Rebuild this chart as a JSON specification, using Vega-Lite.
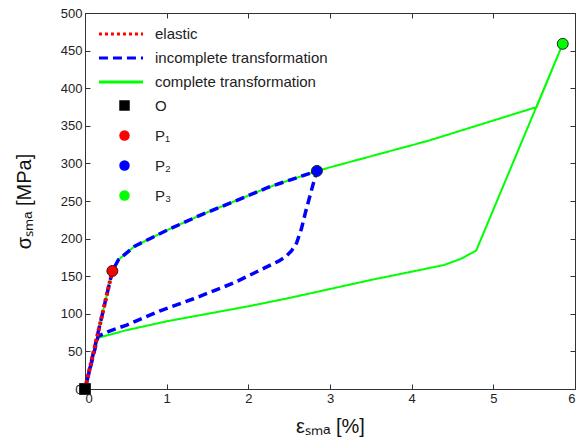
{
  "$schema": "https://vega.github.io/schema/vega-lite/v6.json",
  "width": 490,
  "height": 376,
  "autosize": {"type": "none"},
  "padding": {"left": 85, "top": 13, "right": 10, "bottom": 55},
  "background": "white",
  "config": {
    "font": "Liberation Sans",
    "view": {"stroke": "#333", "strokeWidth": 1},
    "axis": {
      "grid": false,
      "domainColor": "#333",
      "tickColor": "#333",
      "labelColor": "#222",
      "labelFontSize": 13,
      "labelFont": "Liberation Sans",
      "tickSize": -5,
      "titleFont": "Liberation Sans",
      "titleFontSize": 20,
      "titleFontWeight": "normal",
      "titleColor": "#111"
    },
    "legend": {"labelFont": "Liberation Sans", "labelColor": "#222", "labelFontSize": 15, "labelLimit": 400}
  },
  "datasets": {
    "lines": [
      {"series": "complete transformation", "i": 0, "x": 0, "y": 0},
      {"series": "complete transformation", "i": 1, "x": 0.335, "y": 157},
      {"series": "complete transformation", "i": 2, "x": 0.41, "y": 172},
      {"series": "complete transformation", "i": 3, "x": 0.61, "y": 190},
      {"series": "complete transformation", "i": 4, "x": 1.02, "y": 212},
      {"series": "complete transformation", "i": 5, "x": 1.43, "y": 232},
      {"series": "complete transformation", "i": 6, "x": 1.84, "y": 250},
      {"series": "complete transformation", "i": 7, "x": 2.24, "y": 268},
      {"series": "complete transformation", "i": 8, "x": 2.65, "y": 283},
      {"series": "complete transformation", "i": 9, "x": 2.84, "y": 290},
      {"series": "complete transformation", "i": 10, "x": 3.45, "y": 308},
      {"series": "complete transformation", "i": 11, "x": 4.2, "y": 330},
      {"series": "complete transformation", "i": 12, "x": 5.0, "y": 357},
      {"series": "complete transformation", "i": 13, "x": 5.53, "y": 375},
      {"series": "complete transformation", "i": 14, "x": 5.85, "y": 459},
      {"series": "complete transformation", "i": 15, "x": 4.79, "y": 184},
      {"series": "complete transformation", "i": 16, "x": 4.6, "y": 173},
      {"series": "complete transformation", "i": 17, "x": 4.4, "y": 165},
      {"series": "complete transformation", "i": 18, "x": 4.0, "y": 156},
      {"series": "complete transformation", "i": 19, "x": 3.5, "y": 145},
      {"series": "complete transformation", "i": 20, "x": 3.0, "y": 133},
      {"series": "complete transformation", "i": 21, "x": 2.5, "y": 121},
      {"series": "complete transformation", "i": 22, "x": 2.0, "y": 110},
      {"series": "complete transformation", "i": 23, "x": 1.5, "y": 100},
      {"series": "complete transformation", "i": 24, "x": 1.0, "y": 90},
      {"series": "complete transformation", "i": 25, "x": 0.5, "y": 78},
      {"series": "complete transformation", "i": 26, "x": 0.16, "y": 68},
      {"series": "complete transformation", "i": 27, "x": 0, "y": 0},
      {"series": "incomplete transformation", "i": 0, "x": 0, "y": 0},
      {"series": "incomplete transformation", "i": 1, "x": 0.335, "y": 157},
      {"series": "incomplete transformation", "i": 2, "x": 0.41, "y": 172},
      {"series": "incomplete transformation", "i": 3, "x": 0.61, "y": 190},
      {"series": "incomplete transformation", "i": 4, "x": 1.02, "y": 212},
      {"series": "incomplete transformation", "i": 5, "x": 1.43, "y": 232},
      {"series": "incomplete transformation", "i": 6, "x": 1.84, "y": 250},
      {"series": "incomplete transformation", "i": 7, "x": 2.24, "y": 268},
      {"series": "incomplete transformation", "i": 8, "x": 2.65, "y": 283},
      {"series": "incomplete transformation", "i": 9, "x": 2.84, "y": 290},
      {"series": "incomplete transformation", "i": 10, "x": 2.8, "y": 275},
      {"series": "incomplete transformation", "i": 11, "x": 2.75, "y": 255},
      {"series": "incomplete transformation", "i": 12, "x": 2.7, "y": 235},
      {"series": "incomplete transformation", "i": 13, "x": 2.65, "y": 213},
      {"series": "incomplete transformation", "i": 14, "x": 2.59, "y": 194},
      {"series": "incomplete transformation", "i": 15, "x": 2.53, "y": 184},
      {"series": "incomplete transformation", "i": 16, "x": 2.46, "y": 176},
      {"series": "incomplete transformation", "i": 17, "x": 2.37, "y": 170},
      {"series": "incomplete transformation", "i": 18, "x": 2.2, "y": 161},
      {"series": "incomplete transformation", "i": 19, "x": 1.82, "y": 141},
      {"series": "incomplete transformation", "i": 20, "x": 1.33, "y": 120},
      {"series": "incomplete transformation", "i": 21, "x": 0.92, "y": 104},
      {"series": "incomplete transformation", "i": 22, "x": 0.51, "y": 85},
      {"series": "incomplete transformation", "i": 23, "x": 0.3, "y": 77},
      {"series": "incomplete transformation", "i": 24, "x": 0.16, "y": 70},
      {"series": "incomplete transformation", "i": 25, "x": 0, "y": 0},
      {"series": "elastic", "i": 0, "x": 0, "y": 0},
      {"series": "elastic", "i": 1, "x": 0.335, "y": 157}
    ],
    "pts": [
      {"name": "O", "x": 0, "y": 0},
      {"name": "P₁", "x": 0.335, "y": 157},
      {"name": "P₂", "x": 2.84, "y": 290},
      {"name": "P₃", "x": 5.85, "y": 459}
    ]
  },
  "layer": [
    {
      "data": {"name": "lines"},
      "transform": [{"filter": "datum.series === 'complete transformation'"}],
      "mark": {"type": "line", "strokeWidth": 2},
      "encoding": {
        "x": {"field": "x", "type": "quantitative", "scale": {"domain": [0, 6], "nice": false},
              "axis": {"orient": "bottom", "values": [0, 1, 2, 3, 4, 5, 6], "title": "εₛₘₐ [%]", "labelPadding": 8, "titlePadding": 11}},
        "y": {"field": "y", "type": "quantitative", "scale": {"domain": [0, 500], "nice": false},
              "axis": {"orient": "left", "values": [0, 50, 100, 150, 200, 250, 300, 350, 400, 450, 500], "title": "σₛₘₐ [MPa]", "labelPadding": 8, "titlePadding": 26}},
        "order": {"field": "i", "type": "quantitative"},
        "stroke": {"field": "series", "type": "nominal",
                   "scale": {"domain": ["elastic", "incomplete transformation", "complete transformation"], "range": ["#ff0000", "#0000ff", "#00ff00"]},
                   "legend": {"orient": "none", "legendX": 27, "legendY": 12, "title": null, "symbolType": "M-3,0H3", "symbolSize": 216, "symbolStrokeWidth": 3, "labelOffset": 25, "rowPadding": 7}},
        "strokeDash": {"field": "series", "type": "nominal",
                       "scale": {"domain": ["elastic", "incomplete transformation", "complete transformation"], "range": [[3, 3], [9, 5], [1, 0]]},
                       "legend": {"orient": "none", "legendX": 27, "legendY": 12, "title": null, "symbolType": "M-3,0H3", "symbolSize": 216, "symbolStrokeWidth": 3, "labelOffset": 25, "rowPadding": 7}}
      }
    },
    {
      "data": {"name": "lines"},
      "transform": [{"filter": "datum.series === 'incomplete transformation'"}],
      "mark": {"type": "line", "strokeWidth": 3.5},
      "encoding": {
        "x": {"field": "x", "type": "quantitative", "axis": null},
        "y": {"field": "y", "type": "quantitative", "axis": null},
        "order": {"field": "i", "type": "quantitative"},
        "stroke": {"field": "series", "type": "nominal"},
        "strokeDash": {"field": "series", "type": "nominal"}
      }
    },
    {
      "data": {"name": "lines"},
      "transform": [{"filter": "datum.series === 'elastic'"}],
      "mark": {"type": "line", "strokeWidth": 4},
      "encoding": {
        "x": {"field": "x", "type": "quantitative", "axis": null},
        "y": {"field": "y", "type": "quantitative", "axis": null},
        "order": {"field": "i", "type": "quantitative"},
        "stroke": {"field": "series", "type": "nominal"},
        "strokeDash": {"field": "series", "type": "nominal"}
      }
    },
    {
      "data": {"name": "pts"},
      "mark": {"type": "point", "filled": true, "size": 120, "stroke": "#222", "strokeWidth": 1, "opacity": 1},
      "encoding": {
        "x": {"field": "x", "type": "quantitative",
              "axis": {"orient": "top", "values": [0, 1, 2, 3, 4, 5, 6], "labels": false, "domain": false, "title": null}},
        "y": {"field": "y", "type": "quantitative",
              "axis": {"orient": "right", "values": [0, 50, 100, 150, 200, 250, 300, 350, 400, 450, 500], "labels": false, "domain": false, "title": null}},
        "fill": {"field": "name", "type": "nominal",
                 "scale": {"domain": ["O", "P₁", "P₂", "P₃"], "range": ["#000000", "#ff0000", "#0000ff", "#00ff00"]},
                 "legend": {"orient": "none", "legendX": 32, "legendY": 85, "title": null, "symbolSize": 110, "labelOffset": 23, "rowPadding": 14, "symbolStrokeColor": "#222", "symbolStrokeWidth": 1}},
        "shape": {"field": "name", "type": "nominal",
                  "scale": {"domain": ["O", "P₁", "P₂", "P₃"], "range": ["square", "circle", "circle", "circle"]},
                  "legend": {"orient": "none", "legendX": 32, "legendY": 85, "title": null, "symbolSize": 110, "labelOffset": 23, "rowPadding": 14, "symbolStrokeColor": "#222", "symbolStrokeWidth": 1}}
      }
    }
  ],
  "resolve": {"axis": {"x": "independent", "y": "independent"}}
}
